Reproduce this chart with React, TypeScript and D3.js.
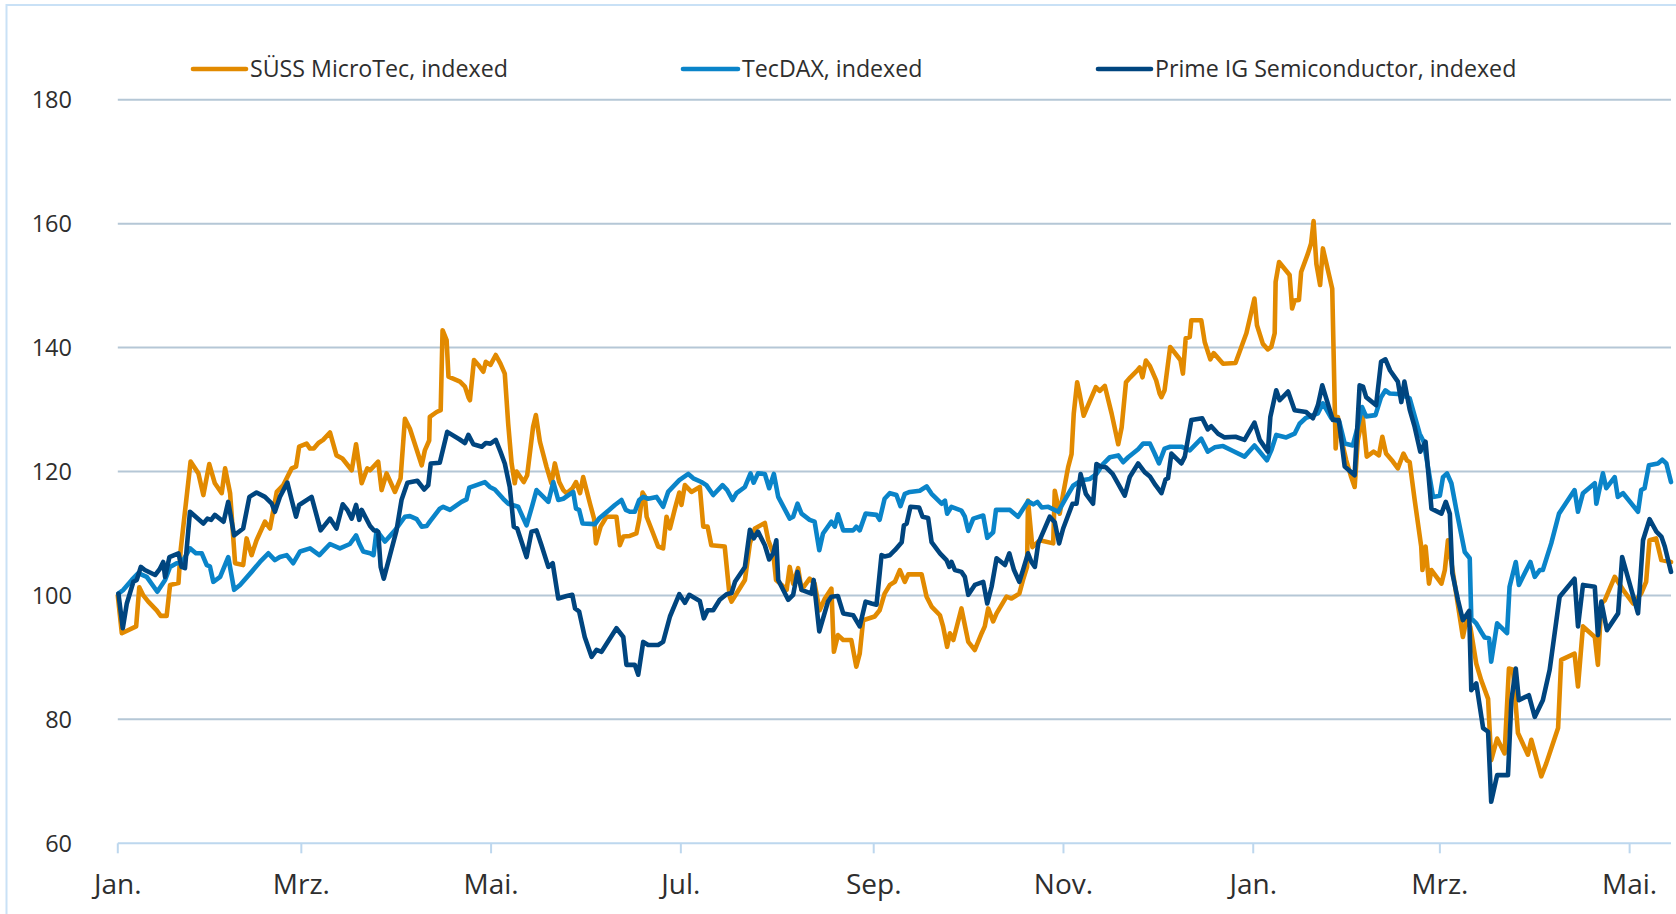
import React from "react";
import * as d3 from "d3";

// ---------- data ----------
const seriesNames = ["SÜSS MicroTec, indexed", "TecDAX, indexed", "Prime IG Semiconductor, indexed"];
const seriesColors = ["#E28A00", "#0A84C9", "#00457F"];
const yTickValues = [60, 80, 100, 120, 140, 160, 180];
const xTickLabels = ["Jan.", "Mrz.", "Mai.", "Jul.", "Sep.", "Nov.", "Jan.", "Mrz.", "Mai."];
const xTickDates = [
  "2019-01-01", "2019-03-01", "2019-05-01", "2019-07-01", "2019-09-01",
  "2019-11-01", "2020-01-01", "2020-03-01", "2020-05-01",
];
const startDate = "2019-01-01";
const endDayOffset = 499.3; // axis ends mid-May 2020

// [calendar days since 1 Jan 2019, indexed value]
const sussData: [number, number][] = [
  [0,100],[1.3,93.9],[5.9,95],[6.9,101.3],[8.2,100],[9.8,99],[12.5,97.6],[13.8,96.7],[15.7,96.7],[16.8,101.7],[19.5,102],[20.2,107.3],[23.4,121.6],[25.9,119.7],[27.5,116.2],[29.4,121.2],[31.2,118.1],[33.4,116.5],[34.5,120.5],[36.1,116.5],[37.7,105.2],[40.3,104.9],[41.4,109.2],[43,106.5],[44.6,108.9],[47.3,111.9],[48.9,110.8],[51.1,116.7],[53.2,117.8],[55.9,120.5],[57.3,120.8],[58.3,124],[60.7,124.5],[61.8,123.7],[63,123.7],[64.5,124.6],[66,125.1],[68.2,126.3],[70.3,122.6],[72.2,122.1],[75.2,120.2],[76.6,124.4],[78.4,118.1],[80.2,120.5],
  [81.1,120.2],[83.7,121.6],[84.8,117],[86.4,119.7],[89.1,116.7],[90.9,118.9],[92.3,128.5],[93.9,126.9],[97.7,121],[98.7,123.4],[100.1,125],[100.3,128.8],[102.5,129.6],[103.8,129.9],[104.4,142.8],[105.7,141.2],[106.3,135.3],[110,134.5],[111.6,133.7],[112.7,132],[113.2,131.5],[114.5,138],[115.9,137.2],[117.5,136.1],[118.3,137.7],[119.8,137.2],[121.5,138.8],[123,137.4],[124.4,135.8],[125.5,127.7],[126.6,121.3],[127.6,118.1],[128.2,120],[130.5,118.3],[131.6,119.4],[133.5,127.2],[134.4,129.1],[135.7,124.8],[137.8,120.8],[139.4,118.1],[140.5,121.3],[141.9,118.3],[143.2,117],[144.3,116.5],[146.2,117.3],[147.3,118.3],[148.6,116.5],[149.6,119.1],[151.8,114.8],[153.1,112.4],[153.7,108.4],[155.2,111.1],[157.1,112.7],[160.3,112.7],[161.4,108.1],[162.5,109.5],[164.6,109.6],
  [166.7,110],[167.6,112.2],[168.7,116.6],[169.4,116],[170,112.7],[172.1,110],[173.7,107.9],[175.3,107.6],[176.4,112.7],[177.5,110.8],[179.1,114],[180.5,116.6],[181.2,114.6],[182.3,117.8],[184.4,116.7],[187.1,117.5],[188.2,111.1],[189.6,111.1],[190.8,108.1],[195.1,107.9],[196.7,99.8],[197.3,99],[198.9,100.3],[201.6,102.5],[203.2,108.4],[204.8,110.8],[208,111.7],[209.1,108.9],[210.7,106.8],[211.6,102.5],[213.4,101.7],[215,100.9],[216,104.6],[217.1,101.9],[218.7,104.4],[219.8,100.9],[222.4,102.7],[224,101.9],[225.6,97.6],[227.3,99.5],[229.4,101.1],[230.2,90.9],[231.5,93.6],[233.2,92.8],[235.8,92.8],[237.4,88.5],[238.5,90.6],[239.6,96],[243.3,96.6],[244.9,97.6],[246.5,100.3],[248.2,101.7],
  [249.8,102.2],[251.4,104.1],[253,102.2],[254.1,103.4],[258.4,103.4],[260,99.8],[261.6,98.2],[264.3,96.8],[265.3,95],[266.6,91.7],[267.5,93.9],[268.6,92.8],[271.2,97.9],[273.4,92.5],[275.5,91.2],[277.7,93.9],[278.7,95],[279.8,97.9],[281.4,95.8],[282.5,97.1],[285.7,99.8],[287.3,99.5],[289.8,100.3],[291,102.5],[292.3,104.6],[292.6,115.3],[294,107.8],[296.4,108.9],[300.7,108.4],[301.2,116.9],[302.8,113.2],[303.9,116.4],[305.5,120.7],[306.6,122.8],[307.3,129.3],[308.4,134.4],[309.2,132.5],[310.5,129],[312.5,131.4],[314.4,133.6],[315.7,133],[317.3,133.8],[319.5,129.3],[321.6,124.4],[322.7,127.1],[324.1,134.4],[325.5,135.2],[327.5,136.2],[328.5,136.8],[329.4,135.2],[330.5,137.9],[331.8,137],
  [333.8,134.7],[334.9,132.6],[335.5,132],[336.5,133.1],[338.3,140.1],[341.6,138],[342.4,135.8],[343.3,141.5],[344.6,141.7],[345.1,144.4],[348.3,144.4],[349.4,140.9],[351.2,138.1],[352.3,139.1],[355.3,137.4],[359.3,137.5],[362.8,142.3],[364,144.9],[365.4,147.9],[366.2,143.6],[368.1,140.6],[369.7,139.7],[370.8,140.1],[371.9,142.3],[372.2,150.6],[373.3,153.8],[376.7,151.7],[377.5,146.3],[378.3,147.6],[379.7,147.7],[380.4,152.2],[382.6,155.2],[383.6,156.8],[384.4,160.4],[385.3,153.5],[386.5,150.1],[387.4,156],[389,152.5],[390.4,149.5],[391.5,123.7],[392.2,128.8],[393.3,125.3],[394.9,121.8],[396.5,119.1],[397.6,117.5],[398.6,125],[400.2,128.8],[401.5,122.4],[403.7,123.2],[405.4,122.6],[406.5,125.6],[407.7,122.9],[409.9,121.6],[411.5,120.5],[413.3,122.9],[414.4,121.8],[415.3,121.5],
  [416.9,115.4],[419,107.9],[419.4,104.1],[420.4,107.9],[421.5,101.9],[422.3,104.1],[423.9,103],[425.5,101.9],[426.6,104.1],[427.6,108.9],[432.4,93.3],[433.5,96],[434.8,94.9],[436.7,89],[438.3,86.3],[440.5,83.3],[441.5,73.4],[443.4,76.9],[445.8,74.5],[447.2,88.2],[448.5,88],[450.1,77.8],[453.3,74.3],[454.4,76.7],[457.6,70.8],[459.2,72.9],[463,78.6],[464,89.6],[468.3,90.6],[469.4,85.3],[471,95],[474.8,93.3],[475.8,88.8],[476.9,98.7],[478,99.2],[481.2,103],[483.9,100.9],[487.1,98.7],[489.7,100.3],[491.3,102.2],[492.4,108.9],[494.5,109.2],[496.2,105.7],[499.3,105.4],
];

const tecdaxData: [number, number][] = [
  [0.2,100.3],[1.8,100.9],[4.5,102.5],[6.6,103.6],[9.3,103],[12.7,100.6],[15.2,102.5],[16.8,104.6],[18.9,105.2],[20.5,105.2],[23.2,107.6],[25.1,106.8],[27,106.8],[28.6,104.9],[29.6,104.7],[30.7,102.2],[32.9,103],[35.5,106.2],[37.4,100.9],[39.3,101.7],[43,103.8],[45.7,105.4],[48.4,106.8],[50.5,105.7],[52.1,106.2],[54.3,106.5],[56.4,105.2],[58.6,107.1],[61.8,107.6],[64.8,106.5],[68.2,108.3],[71.4,107.6],[74.6,108.3],[76.6,109.7],[77.6,108.4],[78.9,107.1],[81.1,106.8],
  [82.2,106.5],[83.2,110.5],[85.9,108.7],[89.1,110.5],[92.3,112.7],[93.9,112.8],[96.1,112.3],[97.7,111.1],[99.3,111.2],[100.3,111.9],[103.5,114],[104.6,114.3],[106.8,113.8],[110.5,115.1],[112.1,115.5],[113,117.4],[115.3,117.8],[118,118.3],[119.6,117.5],[121.2,117.1],[123.9,115.6],[125.5,114.8],[128.7,114.3],[131.4,111.3],[133.3,114.6],[134.6,117],[136.8,115.9],[138.4,115.1],[140,118.3],[141.6,115.4],[143.2,115.6],[146.4,116.7],[147.3,114],[148.3,113.8],[149.4,111.6],[153.4,111.5],[154.7,112.4],[156.6,113.2],[159.8,114.6],[161.9,115.4],[163.3,113.8],[164.6,113.5],
  [166.2,113.5],[167.6,115.4],[168.9,115.9],[170.5,115.6],[173.2,115.9],[175.3,114.3],[176.9,116.7],[180.5,118.6],[183.4,119.6],[185,118.9],[187.6,118.3],[189.2,117.8],[191.4,116.2],[194.4,117.8],[195.9,117],[197.6,115.4],[198.9,116.5],[201.6,117.5],[203.4,119.7],[204.4,118.2],[205.8,119.7],[208,119.6],[209.4,117.3],[210.9,119.6],[212.3,115.9],[216,112.4],[217.1,112.7],[218.5,114.8],[219.8,113.2],[222.4,112.2],[224,111.9],[225.5,107.3],[226.7,110],[229.4,111.9],[230.5,111.1],[231.5,113.1],[233.2,110.5],[236.4,110.5],[237.4,111.1],[238.5,110.5],[240.4,113.2],[243.9,113],[244.9,112.2],[246.5,115.6],[248.2,116.5],
  [250.3,116.2],[251.6,114.4],[253,116.4],[254.6,116.7],[257.8,116.9],[260,117.6],[261.6,116.4],[264.8,114.8],[265.9,115.3],[266.6,113.2],[268,114.3],[271.2,113.7],[272.3,112.7],[273.4,110.4],[275,112.4],[278.2,112.9],[279.5,109.3],[281.4,110.2],[282.3,113.8],[286.8,113.8],[289.4,112.7],[292.6,115.2],[294.3,114.7],[295.6,115.1],[297,114.2],[299.1,114.3],[302.3,113.5],[305,115.9],[307.1,117.7],[309.8,118.6],[312.5,118.8],[314.6,119.6],[316.7,121.2],[318.9,122.3],[321.6,122.6],[323.2,121.5],[324.8,122.3],[328,123.6],[329.6,124.5],[331.8,124.5],
  [333.3,122.9],[334.7,121.3],[336.5,123.7],[338.3,124],[341.9,124],[344.6,123.4],[348.3,125.3],[350.4,123.2],[352.6,123.9],[355.3,124.1],[358.5,123.3],[362.2,122.4],[365.4,124.2],[367.1,123.2],[369.4,121.8],[370.8,123.4],[372.4,125.9],[375.6,125.5],[378.3,126.1],[379.9,127.7],[381.8,128.6],[385.8,129.4],[387.4,131],[390.1,128.6],[392.7,128],[394.4,124.5],[397,124.2],[398.6,127.2],[400,130.4],[401.3,128.9],[404.3,129.1],[406.1,132],[407.5,133.1],[408.8,132.6],[411.5,132.5],[413.1,132.3],[415.3,131.8],
  [418.5,126.1],[419.8,124.8],[422.8,115.9],[425,116.1],[426,119.1],[427.3,119.7],[428.7,118.1],[430.3,113.8],[433,107],[434.6,106],[435.1,96.3],[436.7,95.5],[438.3,94.1],[439.4,93.2],[440.8,93.1],[441.5,89.3],[443.4,95.5],[446.6,93.9],[447.4,101.4],[449.4,105.4],[450.4,101.7],[454.1,105.4],[455.5,103],[457.1,104.1],[458.1,104.1],[460.8,108.4],[463.3,113.2],[468.3,117],[469.4,113.5],[471,116.5],[474.8,118.1],[475.3,114.8],[477.4,119.7],[478.5,117.3],[481.2,119.1],[482.2,115.9],[483.9,116.5],[488.7,113.5],[489.7,117],[490.8,117.3],[492.2,121],[495.1,121.3],[496.5,121.9],[497.8,121.3],[499.3,118.3],
];

const primeData: [number, number][] = [
  [0.2,100.3],[1.6,94.7],[2.9,98.7],[5,102.2],[6.1,102.5],[7.4,104.6],[8.7,104.1],[12,103.3],[13.4,104.2],[14.6,105.4],[15.2,103],[16.6,106.2],[19.5,106.8],[20.5,104.6],[21.6,104.4],[23.2,113.5],[27.5,111.6],[28.8,112.4],[30,112.2],[31.2,113],[34,111.9],[35.5,115.1],[37.4,109.7],[40.3,110.8],[42.3,115.9],[44.6,116.6],[47.3,115.9],[49.5,114.8],[50.5,113.5],[52.1,115.9],[54.5,118.2],[55.9,115.4],[57.3,112.7],[58.3,114.6],[62.3,115.9],[65.2,110.5],[68.2,112.4],[70.3,110.8],[72.3,114.7],[73.8,113.8],[75.2,112.4],[76.6,114.6],[77.6,112.2],[78.4,113.8],[81.1,111.2],
  [82.3,110.5],[83.7,110.3],[84.5,104.6],[85.5,102.7],[87.5,106.5],[89.6,110.5],[91.2,115.4],[93.1,118.2],[96.3,118.5],[98.5,117.1],[99.8,117.8],[100.6,121.3],[103.5,121.4],[105.9,126.4],[109.8,125.2],[111.6,124.6],[112.7,125.9],[114.3,124.4],[117,124],[118.3,124.6],[119.8,124.5],[121.5,125.1],[123,123.2],[124.4,121.3],[126,117.5],[127.3,111.1],[128.4,110.8],[131.4,106.2],[133,110.3],[134.6,110.5],[136.2,108.1],[138.4,104.6],[139.8,105.2],[141.6,99.5],[144.3,99.9],[146.1,100.1],[147,97.9],[148.3,97.4],[150.1,93.3],[152.3,90.1],[153.9,91.2],[155.5,90.9],[160.3,94.7],[162.5,93.3],[163.5,88.8],[164.6,88.8],
  [166.2,88.8],[167.3,87.2],[168.9,92.5],[170.5,92],[173.7,92],[175.3,92.5],[177.5,96.6],[180.5,100.2],[182.3,98.8],[183.7,100.1],[187.1,99.1],[188.4,96.3],[189.6,97.6],[191.4,97.6],[193.5,99.3],[195.7,100.2],[197.3,100.4],[198.4,102.2],[201.6,104.6],[203.2,110.6],[204.4,109.2],[205.8,110.3],[208,108.1],[209.4,105.8],[210.7,106.8],[211.7,108.9],[212.3,102.5],[215.5,99.3],[217.1,100.1],[218.5,103.8],[219.8,100.9],[223,100.3],[223.7,102.5],[225.5,94.2],[228.3,99],[229.4,99.8],[231.5,99.9],[233.2,97.1],[236.4,96.8],[238.5,95],[240.4,99],[242.3,98.7],[243.9,98.5],[245.5,106.5],[246.5,106.3],[248.2,106.5],
  [249.8,107.3],[252,108.6],[252.7,111.3],[253.6,111.6],[254.8,114.3],[257.6,114.2],[258.7,112.7],[260.5,112.5],[261.6,108.6],[264.3,106.8],[266.4,105.7],[267.3,104.6],[268,105.4],[269.1,104.1],[271.2,103.8],[272.3,103],[273.4,100.1],[275.5,101.7],[278.2,102.2],[279.5,98.7],[280.9,101.4],[282.5,106],[285.2,104.9],[286.6,106.8],[288.1,104.1],[289.8,102.2],[291,104.1],[292.6,106.8],[293.7,105.4],[294.8,104.6],[295.9,108.4],[299.6,112.7],[301.2,111.8],[302.6,108.4],[303.9,110.8],[306.9,114.8],[308.2,114.8],[309.5,119.6],[311.2,116.4],[313.5,114.8],[314.6,121.2],[315.9,120.8],[317.6,120.7],[319.8,119.6],[321.6,118],[323.7,116.1],[325.3,119.1],[328,121.3],[330.1,119.9],[331.8,119.2],
  [333.6,117.8],[335.5,116.5],[336.8,118.7],[337.6,118.9],[338.7,122.9],[341.9,121.3],[343,122.4],[345.1,128.3],[348.6,128.6],[350.4,126.8],[351.5,127.3],[353.7,126.1],[355.8,125.5],[359.3,125.6],[362.2,125.1],[365.4,127.9],[367.1,125.1],[369.7,123.2],[370.5,128.8],[372.4,133.1],[373.5,131.5],[376.2,132.9],[378.3,129.9],[382,129.6],[384.2,128.6],[385.8,130.7],[387.2,133.9],[390.6,128.3],[392.5,128.3],[394.4,120.8],[397.6,119.4],[399.2,133.9],[400.3,133.7],[401.3,132],[404.5,130.7],[406.1,137.7],[407.5,138.1],[409,136.3],[411.5,134.5],[412.6,131.2],[413.6,134.5],[415.3,130],
  [416.9,127.2],[418.7,123.2],[420.4,124.8],[422.3,114],[425.5,113.2],[426.9,115.1],[428.2,113.2],[429,103.6],[430.8,99.3],[432.4,96],[434.4,97.5],[435.1,84.7],[436.7,85.8],[438.9,78.6],[440.5,78],[441.5,66.7],[443.4,71],[446.9,71],[448,83.1],[449.4,88.2],[450.4,83.1],[453.6,83.9],[455.5,80.4],[458.1,83.1],[460.3,88],[463.5,99.8],[468.3,102.7],[469.4,95],[471,101.7],[474.8,101.4],[475.8,93.6],[476.9,99],[478.7,94.4],[482.3,97.1],[483.6,106.2],[488.7,97.1],[490.3,108.9],[492.4,112.3],[494.6,110.3],[496.2,109.5],[497.3,107.9],[499.3,103.8],
];

const seriesData = [sussData, tecdaxData, primeData];

// ---------- layout ----------
const W = 1676;
const H = 914;
const plotLeft = 117.8;
const plotRight = 1671;
const plotTop = 99.7;
const plotBottom = 843.3;
const FONT = "'Open Sans', 'Noto Sans', sans-serif";
const TEXT_COLOR = "#2E2E2E";
const GRID_COLOR = "#B5C7D6";
const AXIS_COLOR = "#BDD7EE";

const parse = d3.timeParse("%Y-%m-%d");
const t0 = parse(startDate) as Date;
const dayToDate = (d: number) => new Date(t0.getTime() + d * 86400000);

const x = d3.scaleTime().domain([t0, dayToDate(endDayOffset)]).range([plotLeft, plotRight]);
const y = d3.scaleLinear().domain([60, 180]).range([plotBottom, plotTop]);

const lineGen = d3
  .line<[number, number]>()
  .x((d) => x(dayToDate(d[0])))
  .y((d) => y(d[1]))
  .curve(d3.curveLinear);

const legendItems = [
  { lineX0: 193, lineX1: 246, textX: 250 },
  { lineX0: 683, lineX1: 738, textX: 742 },
  { lineX0: 1098, lineX1: 1151, textX: 1155 },
];

export default function App() {
  const drawOrder = [0, 1, 2];
  return (
    <svg
      width={W}
      height={H}
      viewBox={`0 0 ${W} ${H}`}
      style={{ position: "absolute", left: 0, top: 0, background: "#fff", fontFamily: FONT }}
    >
      <rect x={0} y={0} width={W} height={H} fill="#ffffff" />
      {/* outer chart border */}
      <rect x={6.5} y={5} width={W + 20} height={H + 20} fill="none" stroke="#C9E1F6" strokeWidth={2} />

      {/* gridlines */}
      {yTickValues.filter((v) => v !== 60).map((v) => (
        <line key={"g" + v} x1={plotLeft} x2={plotRight} y1={y(v)} y2={y(v)} stroke={GRID_COLOR} strokeWidth={2} />
      ))}

      {/* y tick labels */}
      {yTickValues.map((v) => (
        <text
          key={"yl" + v}
          x={72}
          y={y(v) + 8.4}
          textAnchor="end"
          fontSize={23.5}
          fill={TEXT_COLOR}
        >
          {v}
        </text>
      ))}

      {/* x axis */}
      <line x1={plotLeft} x2={plotRight} y1={plotBottom} y2={plotBottom} stroke={AXIS_COLOR} strokeWidth={2} />
      {xTickDates.map((ds, i) => {
        const xx = x(parse(ds) as Date);
        return (
          <g key={"xt" + i}>
            <line x1={xx} x2={xx} y1={plotBottom} y2={plotBottom + 10} stroke={AXIS_COLOR} strokeWidth={2} />
            <text x={xx} y={894} textAnchor="middle" fontSize={28} fill={TEXT_COLOR}>
              {xTickLabels[i]}
            </text>
          </g>
        );
      })}

      {/* series */}
      {drawOrder.map((i) => (
        <path
          key={"s" + i}
          d={lineGen(seriesData[i]) || ""}
          fill="none"
          stroke={seriesColors[i]}
          strokeWidth={4.6}
          strokeLinejoin="round"
          strokeLinecap="round"
        />
      ))}

      {/* legend */}
      {legendItems.map((it, i) => (
        <g key={"lg" + i}>
          <line
            x1={it.lineX0}
            x2={it.lineX1}
            y1={69}
            y2={69}
            stroke={seriesColors[i]}
            strokeWidth={4.6}
            strokeLinecap="round"
          />
          <text x={it.textX} y={77.3} fontSize={23.2} fill={TEXT_COLOR}>
            {seriesNames[i]}
          </text>
        </g>
      ))}
    </svg>
  );
}
